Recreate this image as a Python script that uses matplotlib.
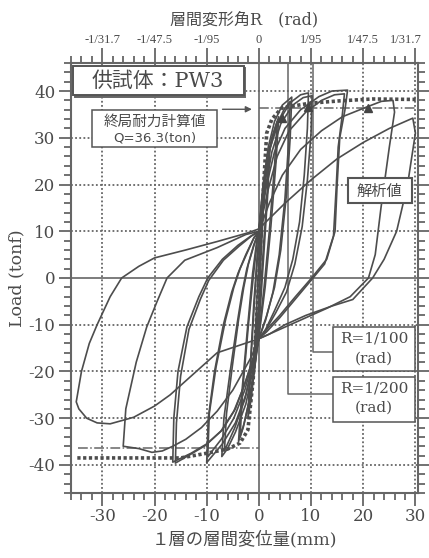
import matplotlib
matplotlib.use("Agg")
import matplotlib.pyplot as plt
import matplotlib.transforms as mtransforms
from matplotlib.patches import Rectangle
from matplotlib.ticker import MultipleLocator

plt.rcParams['font.family'] = ['DejaVu Serif', 'Noto Sans CJK JP']
plt.rcParams['axes.unicode_minus'] = False

# hysteresis loops (disp mm, load tonf)
loop_1 = [(0,0),(0.4,8),(0.8,15),(1.0,19),(0.7,11),(0.3,2),(0,-5),(-0.4,-11),(-0.8,-17),(-1.0,-20),(-0.7,-12),(-0.3,-3),(0,3)]
loop_2 = [(0,3),(0.6,13),(1.3,21),(2.0,27),(1.6,18),(0.9,7),(0.2,-5),(-0.3,-12),(-0.9,-19),(-1.5,-25),(-2.0,-29),(-1.6,-19),(-0.9,-6),(-0.3,4),(0,8)]
loop_3 = [(0,8),(0.5,15),(1.2,22),(2.1,28),(1.7,18),(1.0,6),(0.3,-6),(0,-11),(-0.8,-19),(-1.5,-26),(-2.1,-30),(-1.7,-20),(-1.0,-6),(-0.3,5),(0,9)]
loop_4 = [(0,9),(0.6,17),(1.5,25),(2.5,30),(3.5,33.5),(3.0,24),(2.0,10),(1.0,-2),(0.2,-10),(0,-12),(-0.8,-19),(-1.8,-26),(-2.8,-31),(-3.6,-34),(-3.1,-24),(-2.0,-10),(-1.0,1),(-0.3,8),(0,10)]
loop_5 = [(0,10),(0.7,18),(1.7,26),(2.8,31),(3.8,34.5),(3.3,25),(2.3,11),(1.2,-2),(0.3,-10),(0,-12.5),(-0.9,-20),(-2.0,-27),(-3.0,-32),(-3.9,-35),(-3.3,-25),(-2.2,-11),(-1.2,1),(-0.4,8),(0,10)]
loop_6 = [(0,10),(0.8,20),(1.8,28),(3.0,33.5),(4.5,37),(6.3,38.7),(6.0,30),(5.3,18),(4.2,6),(3.0,-2),(1.5,-8),(0,-13),(-1,-19),(-2.5,-27),(-4.5,-33),(-6,-36.5),(-7.1,-38.2),(-6.7,-30),(-5.5,-20),(-4.2,-10),(-3.2,-3),(-2.3,2),(-1,7),(0,10)]
loop_7 = [(0,10),(0.9,19),(2.0,27),(3.3,32.5),(4.8,36),(6.0,37.8),(5.7,29),(5.0,17),(3.9,5),(2.7,-3),(1.3,-9),(0,-13),(-1.1,-18),(-2.7,-26),(-4.6,-32),(-6,-35.5),(-6.6,-37),(-6.2,-29),(-5.1,-19),(-3.9,-9),(-2.9,-2),(-2.0,3),(-0.8,7.5),(0,10)]
loop_8 = [(0,10),(1,20),(2.2,28),(3.8,33.5),(6,37.5),(8,39.2),(9.5,39.6),(9.3,32),(8.7,22),(7.8,12),(6.5,4),(5,-2),(3,-7),(1.3,-11),(0,-13),(-1,-18),(-2.5,-25),(-4.5,-31),(-7,-35.5),(-8.5,-37.5),(-10,-39.5),(-9.7,-30),(-8.5,-20),(-6.8,-10),(-5.2,-3),(-4,1),(-2.5,5),(-1,8.5),(0,10)]
loop_9 = [(0,10),(1.2,19),(2.5,27),(4.2,33),(6.5,37),(8.5,38.6),(10.2,39),(10.0,31),(9.3,21),(8.3,11),(6.9,3),(5.3,-3),(3.2,-7.5),(1.4,-11),(0,-13),(-1.1,-17.5),(-2.7,-24),(-4.8,-30),(-7.2,-34.5),(-8.8,-36.8),(-9.8,-38.3),(-9.5,-29),(-8.2,-19),(-6.4,-9),(-4.8,-2),(-3.6,2),(-2.2,5.5),(-0.9,8.7),(0,10)]
loop_10 = [(0,10),(1.5,20),(3,27),(5,32),(8,36),(11.5,38.8),(14,40),(17,40.2),(16.5,36),(15.5,30),(15,20),(14.6,10),(13,4),(10.1,0),(7,-4),(4,-8),(1.5,-11),(0,-13),(-1,-17),(-2.5,-22),(-4.5,-28),(-7,-32.5),(-10,-35.5),(-13,-37.5),(-16.5,-39.4),(-16.3,-30),(-15.5,-20),(-13.8,-10.5),(-11.5,-4),(-9.8,0),(-7,4),(-4,7),(-1.5,9),(0,10)]
loop_11 = [(0,10),(1.8,19),(3.5,26),(5.8,31.5),(9,35.5),(12,38),(14.5,39.2),(16.4,39.4),(16.0,35),(15.2,28),(14.8,19),(14.3,9),(12.6,3),(10.0,-0.5),(7,-4.5),(4,-8.5),(1.5,-11.5),(0,-13),(-1.2,-17.5),(-2.8,-23),(-4.8,-28.5),(-7.3,-32.8),(-10.2,-35.8),(-13.2,-37.8),(-16,-39.6),(-15.8,-31),(-15,-21),(-13.4,-11),(-11.2,-4.5),(-9.6,-0.5),(-6.8,3.8),(-3.8,6.8),(-1.4,9),(0,10)]
loop_12 = [(0,10),(2,16),(4.5,22),(8,27.5),(12,31.5),(16,34.5),(20.7,36.6),(23.5,37.8),(25.7,38),(26,35.5),(25,28),(23.4,15),(22.3,5),(21,0),(17.5,-4),(13,-6.5),(8,-9),(4,-11),(0,-13),(-1.5,-17),(-3,-20),(-5,-24),(-8,-28.5),(-11,-32),(-14,-34.5),(-16.5,-36),(-18.5,-37),(-20.5,-37.3),(-23,-36.5),(-26,-36),(-25.5,-28),(-23.5,-18),(-21.5,-10.5),(-19.5,-5),(-17.6,0),(-14.2,3.8),(-8,6.5),(-2.5,9.3),(0,10)]
loop_13 = [(0,10.5),(5,16),(10,21),(15,25.5),(20,29),(25,32),(29.5,34.2),(30,31),(28.5,20),(26.4,10),(24,4),(21.8,0),(18,-4.6),(14,-6),(9,-8),(5,-10),(2,-12),(0,-13),(-4,-14.5),(-8,-16),(-11,-19),(-14,-22),(-17,-25),(-20,-27.4),(-24,-29.8),(-28.5,-31.2),(-31,-31),(-33,-30),(-34.5,-28),(-35,-26.5),(-34,-20),(-32.5,-14),(-31,-10),(-28.5,-4),(-26.3,0),(-23,2.5),(-20,4.3),(-14,6),(-8,7.8),(-2.3,9.6),(0,10.5)]
loops = [loop_1, loop_2, loop_3, loop_4, loop_5, loop_6, loop_7, loop_8, loop_9, loop_10, loop_11, loop_12, loop_13]

# analysis skeleton (解析値)
ana_pos_x = [0, 0.6, 1.5, 2.5, 4.4, 9.8, 15.5, 21.8, 30.4]
ana_pos_y = [0, 14, 31, 34, 36.4, 37.4, 37.9, 38.3, 38.2]
ana_neg_x = [0, -1.1, -2.1, -3.6, -6, -10.5, -15, -35.2]
ana_neg_y = [0, -21.8, -32.5, -35.3, -36.6, -37.6, -38.5, -38.5]

q_ult = 36.3
top_ticks_mm = [-30, -20, -10, 0, 10, 20, 30]
top_labels = ['-1/31.7', '-1/47.5', '-1/95', '0', '1/95', '1/47.5', '1/31.7']
mark_x = [4.5, 9.4, 20.9]
mark_y = [34.2, 36.6, 36.4]

ink = '#4d4d4d'
txt = '#4a4a4a'

fig = plt.figure(figsize=(4.29, 5.58), dpi=100)
ax = fig.add_axes([70.5/429, 1-493/558, 347/429, 430/558])
ax.set_xlim(-36.1, 30.4)
ax.set_ylim(-46, 46)

dot = (0, (1, 1.3))
for v in [-30, -20, -10, 10, 20, 30]:
    ax.axvline(v, ls=dot, lw=1.3, color='#666666', zorder=1)
for h in [-40, -30, -20, -10, 10, 20, 30, 40]:
    ax.axhline(h, ls=dot, lw=1.3, color='#666666', zorder=1)
ax.axvline(0, color='#666666', lw=1.2, zorder=1)
ax.axhline(0, color='#666666', lw=1.2, zorder=1)

# R=1/200, R=1/100 leaders
ax.plot([5.6, 5.6, 14.2], [46, -24.8, -24.8], color='#666666', lw=1.1, zorder=2)
ax.plot([10.3, 10.3, 14.2], [46, -15.8, -15.8], color='#666666', lw=1.1, zorder=2)

for lp in loops:
    xs = [p[0] for p in lp]
    ys = [p[1] for p in lp]
    ax.plot(xs, ys, color=ink, lw=1.2, zorder=3)

ax.plot(ana_pos_x, ana_pos_y, color=ink, lw=2.6, ls=(0, (0.9, 0.7)), zorder=4)
ax.plot(ana_neg_x, ana_neg_y, color=ink, lw=2.6, ls=(0, (0.9, 0.7)), zorder=4)
ax.plot(mark_x, mark_y, ls='none', marker='^', ms=6, color='#444444', zorder=4)

ax.plot([0, 30.4], [q_ult, q_ult], color='#666666', lw=1.1, ls='-.', zorder=2)
ax.plot([-34.6, 0], [-q_ult, -q_ult], color='#666666', lw=1.1, ls='-.', zorder=2)

def box(x0, y0, x1, y1, lw=1.1, shadow=False):
    if shadow:
        ax.add_patch(Rectangle((x0+0.3, y0-0.45), x1-x0, y1-y0, facecolor='#666666',
                               edgecolor='#666666', lw=lw, zorder=5))
    ax.add_patch(Rectangle((x0, y0), x1-x0, y1-y0, facecolor='white',
                           edgecolor='#555555', lw=lw, zorder=6))

box(-35.6, 39.1, -2.9, 45.3, lw=1.4, shadow=True)
ax.text(-19.3, 42.2, '供試体：PW3', ha='center', va='center', fontsize=15, color=txt, zorder=7)

box(-32, 28.0, -8.0, 35.9)
ax.text(-20, 33.4, '終局耐力計算値', ha='center', va='center', fontsize=10.5, color=txt, zorder=7,
        family=['Noto Sans CJK JP'])
ax.text(-20, 29.9, 'Q=36.3(ton)', ha='center', va='center', fontsize=9.5, color=txt, zorder=7,
        family=['DejaVu Sans', 'Noto Sans CJK JP'])
ax.annotate('', xy=(-0.8, 36.1), xytext=(-7.5, 36.1), zorder=7,
            arrowprops=dict(arrowstyle='-|>', color='#555555', lw=1.0, mutation_scale=9))

box(17.0, 16.0, 29.3, 21.4, lw=1.5)
ax.text(23.15, 18.6, '解析値', ha='center', va='center', fontsize=11, color=txt, zorder=7,
        family=['Noto Sans CJK JP'])

box(14.2, -19.9, 29.9, -10.5)
ax.text(22.05, -12.9, 'R=1/100', ha='center', va='center', fontsize=11, color=txt, zorder=7)
ax.text(22.05, -17.2, '(rad)', ha='center', va='center', fontsize=11, color=txt, zorder=7)
box(14.2, -30.8, 29.9, -21.2)
ax.text(22.05, -23.6, 'R=1/200', ha='center', va='center', fontsize=11, color=txt, zorder=7)
ax.text(22.05, -27.8, '(rad)', ha='center', va='center', fontsize=11, color=txt, zorder=7)

# axes cosmetics
for s in ax.spines.values():
    s.set_color('#666666')
    s.set_linewidth(1.5)
ax.set_xticks([-30, -20, -10, 0, 10, 20, 30])
ax.set_yticks([-40, -30, -20, -10, 0, 10, 20, 30, 40])
ax.xaxis.set_minor_locator(MultipleLocator(2))
ax.yaxis.set_minor_locator(MultipleLocator(2))
ax.tick_params(which='both', direction='out', color='#666666', width=1.3,
               labelsize=12, labelcolor=txt, right=True, top=False)
ax.tick_params(which='major', length=9, pad=2)
ax.tick_params(which='minor', length=5)

sec = ax.secondary_xaxis('top')
sec.set_xticks(top_ticks_mm)
sec.set_xticklabels(top_labels, family=['Liberation Serif'], fontsize=9)
sec.xaxis.set_minor_locator(MultipleLocator(2))
sec.tick_params(which='both', direction='out', color='#666666', width=1.3,
                labelcolor=txt, pad=1)
sec.tick_params(which='major', length=11)
sec.tick_params(which='minor', length=5)
sec.spines['top'].set_visible(False)
sec.set_xlabel('層間変形角R　(rad)', fontsize=11.5, color=txt, labelpad=7)

# last top label sits a little left of its tick, as in the scan
last = sec.get_xticklabels()[-1]
last.set_transform(last.get_transform() + mtransforms.ScaledTranslation(-7/72, 0, fig.dpi_scale_trans))

ax.set_xlabel('１層の層間変位量(mm)', fontsize=12.5, color=txt, labelpad=4)
ax.set_ylabel('Load (tonf)', fontsize=12.5, color=txt, labelpad=2)

fig.savefig('out.png', dpi=100, facecolor='white')
